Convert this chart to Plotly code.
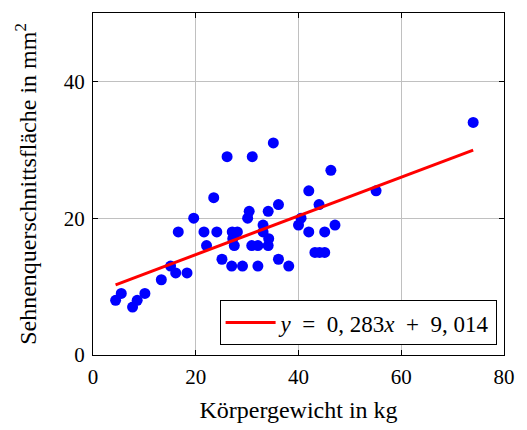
import plotly.graph_objects as go

# Data
body_weight = [4.4, 5.5, 7.7, 8.6, 10.1, 13.3, 15.1, 16.1, 16.6, 18.3,
               19.6, 21.6, 22.1, 23.5, 24.1, 25.1, 26.1, 27.1, 27.2, 27.5,
               28.1, 27.0, 29.1, 30.1, 30.4, 31.0, 30.9, 32.1, 32.1, 33.1,
               33.1, 34.2, 34.1, 34.1, 35.1, 36.1, 36.1, 38.1, 40.0, 40.5,
               42.0, 42.0, 43.2, 44.1, 45.1, 44.0, 45.1, 46.3, 47.1, 55.1,
               74.0]
tendon_area = [8, 9, 7, 8, 9, 11, 13, 12, 18, 12,
               20, 18, 16, 23, 18, 14, 29, 18, 17, 16,
               18, 13, 13, 20, 21, 29, 16, 16, 13, 19,
               18, 17, 16, 21, 31, 22, 14, 13, 19, 20,
               24, 18, 15, 15, 15, 22, 18, 27, 19, 24,
               34]

slope = 0.283
intercept = 9.014
line_x = [min(body_weight), max(body_weight)]
line_y = [slope * v + intercept for v in line_x]

x_ticks = [0, 20, 40, 60, 80]
y_ticks = [0, 20, 40]

FONT = "Liberation Serif"
SP = "\u2002"

fig = go.Figure()
fig.add_trace(go.Scatter(
    x=body_weight, y=tendon_area, mode="markers",
    marker=dict(color="#0000ff", size=11, line=dict(width=0)),
    showlegend=False))
fig.add_trace(go.Scatter(
    x=line_x, y=line_y, mode="lines",
    line=dict(color="#ff0000", width=3),
    name=f"<i>y</i>{SP}={SP}0, 283<i>x</i>{SP}+{SP}9, 014"))

axis_common = dict(
    showline=True, linecolor="black", linewidth=1, mirror="ticks",
    ticks="inside", ticklen=5, tickcolor="black", tickwidth=1,
    showgrid=True, gridcolor="#c0c0c0", gridwidth=1,
    zeroline=False,
    tickfont=dict(family=FONT, size=21, color="black"),
)

fig.update_xaxes(range=[0, 80], tickvals=x_ticks, ticklabelstandoff=3,
                 title=dict(text="Körpergewicht in kg",
                            font=dict(family=FONT, size=24, color="black"),
                            standoff=12),
                 **axis_common)
fig.update_yaxes(range=[0, 50], tickvals=y_ticks, ticklabelstandoff=3,
                 title=dict(text="Sehnenquerschnittsfläche in mm<sup>2</sup>",
                            font=dict(family=FONT, size=24, color="black"),
                            standoff=20),
                 **axis_common)

fig.update_layout(
    width=527, height=430,
    margin=dict(l=93, r=15, t=12, b=75),
    plot_bgcolor="white", paper_bgcolor="white",
    legend=dict(x=0.982, y=0.029, xanchor="right", yanchor="bottom",
                bgcolor="white", bordercolor="black", borderwidth=1,
                font=dict(family=FONT, size=23, color="black"),
                itemwidth=50),
)

fig.write_html("out.html")
